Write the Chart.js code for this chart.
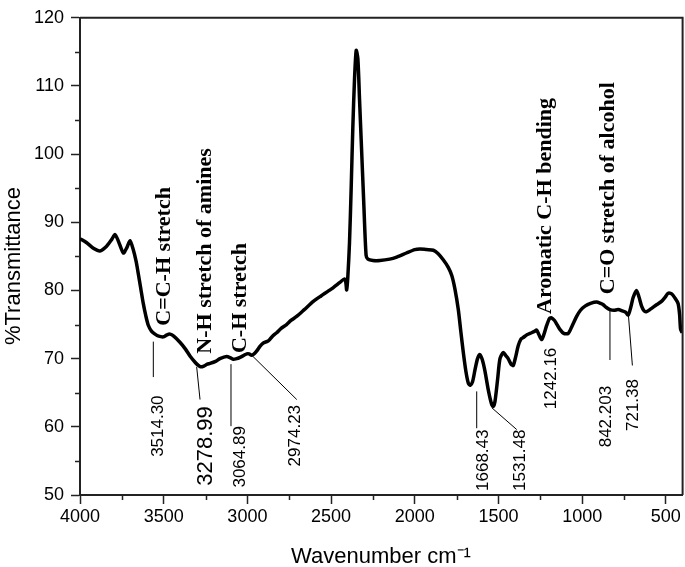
<!DOCTYPE html>
<html>
<head>
<meta charset="utf-8">
<script src="https://cdn.jsdelivr.net/npm/chart.js@4.4.1/dist/chart.umd.min.js"></script>
<style>
  html, body { margin: 0; padding: 0; background: #fff; }
  #wrap { width: 685px; height: 567px; }
</style>
</head>
<body>
<div id="wrap"><canvas id="c" width="685" height="567"></canvas></div>
<script>
// ---- data ----
const wavenumbers = [
  4000, 3960, 3920, 3881, 3841, 3810, 3791, 3770, 3741, 3720, 3701, 3682, 3665, 3652, 3637, 3622, 3607, 3592, 3572, 3552,
  3530, 3502, 3480, 3462, 3440, 3403, 3370, 3343, 3310, 3293, 3280, 3260, 3240, 3223, 3190, 3164, 3124, 3100, 3084, 3064,
  3044, 3020, 3004, 2990, 2975, 2960, 2945, 2925, 2905, 2875, 2850, 2825, 2800, 2766, 2740, 2706, 2660, 2606, 2560, 2500,
  2447, 2420, 2412, 2407, 2400, 2390, 2380, 2370, 2360, 2350, 2340, 2330, 2320, 2305, 2291, 2280, 2250, 2208, 2150, 2108,
  2050, 2000, 1969, 1930, 1889, 1860, 1830, 1800, 1779, 1760, 1740, 1725, 1710, 1695, 1680, 1668, 1655, 1640, 1625, 1611,
  1596, 1581, 1560, 1541, 1531, 1521, 1505, 1491, 1471, 1455, 1442, 1425, 1412, 1397, 1382, 1365, 1352, 1330, 1302, 1285,
  1272, 1258, 1242, 1228, 1213, 1195, 1183, 1165, 1150, 1133, 1110, 1083, 1060, 1033, 1010, 983, 950, 914, 890, 874,
  855, 834, 810, 785, 760, 740, 725, 710, 695, 675, 660, 645, 630, 615, 590, 556, 526, 505, 486, 465,
  446, 427, 418, 412, 402
];
const transmittance = [
  87.6, 87.0, 86.2, 85.8, 86.5, 87.5, 88.2, 87.2, 85.5, 86.3, 87.3, 86.0, 84.3, 82.5, 80.3, 78.1, 76.3, 74.9, 74.0, 73.6,
  73.3, 73.2, 73.5, 73.6, 73.3, 72.4, 71.4, 70.4, 69.4, 69.0, 68.8, 68.9, 69.2, 69.3, 69.6, 70.0, 70.3, 70.1, 69.9, 70.0,
  70.2, 70.5, 70.7, 70.7, 70.5, 70.7, 71.1, 71.8, 72.3, 72.6, 73.3, 73.8, 74.4, 75.0, 75.6, 76.2, 77.2, 78.4, 79.2, 80.2,
  81.2, 81.7, 81.2, 80.1, 82.0, 87.0, 95.0, 104.0, 111.0, 115.2, 114.0, 108.0, 102.0, 93.0, 85.2, 84.6, 84.4, 84.4, 84.6, 84.9,
  85.5, 86.0, 86.1, 86.0, 85.9, 85.4, 84.5, 83.4, 82.2, 80.2, 77.2, 74.0, 70.9, 68.2, 66.4, 66.1, 66.6, 68.4, 70.0, 70.6,
  69.8, 68.2, 65.3, 63.3, 63.0, 63.7, 67.0, 70.0, 70.9, 70.4, 70.0, 69.2, 69.0, 70.3, 71.9, 72.9, 73.1, 73.5, 73.8, 74.0,
  74.2, 73.5, 72.8, 73.6, 74.8, 75.9, 76.0, 75.6, 75.0, 74.3, 73.7, 73.7, 74.8, 76.2, 77.1, 77.7, 78.1, 78.3, 78.1, 77.9,
  77.5, 77.2, 77.1, 77.2, 77.0, 76.8, 76.4, 77.5, 79.0, 80.0, 79.0, 77.7, 77.0, 76.9, 77.3, 77.9, 78.4, 79.0, 79.6, 79.5,
  78.9, 78.1, 76.5, 74.3, 73.8
];
const xTicks = [4000, 3500, 3000, 2500, 2000, 1500, 1000, 500];
const xMinorTicks = [3750, 3250, 2750, 2250, 1750, 1250, 750];
const yTicks = [50, 60, 70, 80, 90, 100, 110, 120];
const yMinorTicks = [55, 65, 75, 85, 95, 105, 115];

const peakLabels = ['3514.30', '3278.99', '3064.89', '2974.23', '1668.43', '1531.48', '1242.16', '842.203', '721.38'];
const bandLabels = ['C=C-H stretch', 'N-H stretch of amines', 'C-H stretch', 'Aromatic C-H bending', 'C=O stretch of alcohol'];
const yTitle = '%Transmittance';
const xTitle = 'Wavenumber cm\u207B\u00B9';

// ---- annotation placement (in axis units: wavenumber, %T) ----
// [baseline wavenumber, centre %T, font size]
const peakLabelPos = [
  [3504, 60.1, 17], [3214, 57.2, 22], [3014, 55.6, 17], [2686, 58.7, 17],
  [1563, 55.1, 17], [1342, 55.1, 17], [1156, 67.1, 17], [828, 61.5, 17], [666, 63.2, 17]
];
// leader lines [x1, y1, x2, y2] in axis units (null = none)
const leaderLines = [
  [3562, 72.5, 3562, 67.3], [3303, 68.8, 3283, 64.0], [3098, 69.2, 3098, 60.1], [2974, 70.5, 2705, 64.0],
  [1630, 65.2, 1630, 59.8], [1540, 62.8, 1391, 59.6], null, [834, 77.0, 834, 69.8], [724, 76.5, 700, 69.0]
];
const bandLabelPos = [[3462, 85.0], [3217, 85.8], [3008, 78.9], [1186, 92.4], [810, 95.0]];

const SANS = '"Liberation Sans", Arial, sans-serif';
const SERIF = '"Liberation Serif", "Times New Roman", serif';
const AXIS = '#222';

const annotPlugin = {
  id: 'annot',
  afterDraw(chart) {
    const { ctx, chartArea: ca } = chart;
    const xs = chart.scales.x, ys = chart.scales.y;
    ctx.save();
    // frame top & right
    ctx.strokeStyle = AXIS;
    ctx.lineWidth = 2;
    ctx.beginPath();
    ctx.moveTo(ca.left, ca.top);
    ctx.lineTo(ca.right, ca.top);
    ctx.lineTo(ca.right, ca.bottom);
    ctx.stroke();
    // minor ticks
    ctx.lineWidth = 1.5;
    ctx.beginPath();
    xMinorTicks.forEach(v => {
      const px = Math.round(xs.getPixelForValue(v)) + 0.5;
      ctx.moveTo(px, ca.bottom);
      ctx.lineTo(px, ca.bottom + 5);
    });
    yMinorTicks.forEach(v => {
      const py = Math.round(ys.getPixelForValue(v)) + 0.5;
      ctx.moveTo(ca.left, py);
      ctx.lineTo(ca.left - 5, py);
    });
    ctx.stroke();
    // leader lines
    ctx.strokeStyle = '#000';
    ctx.lineWidth = 1;
    ctx.beginPath();
    leaderLines.forEach(l => {
      if (!l) return;
      ctx.moveTo(xs.getPixelForValue(l[0]), ys.getPixelForValue(l[1]));
      ctx.lineTo(xs.getPixelForValue(l[2]), ys.getPixelForValue(l[3]));
    });
    ctx.stroke();
    // rotated text
    ctx.fillStyle = '#000';
    ctx.textAlign = 'center';
    ctx.textBaseline = 'alphabetic';
    peakLabels.forEach((t, i) => {
      const p = peakLabelPos[i];
      ctx.save();
      ctx.translate(xs.getPixelForValue(p[0]), ys.getPixelForValue(p[1]));
      ctx.rotate(-Math.PI / 2);
      ctx.font = p[2] + 'px ' + SANS;
      ctx.fillText(t, 0, 0);
      ctx.restore();
    });
    bandLabels.forEach((t, i) => {
      const p = bandLabelPos[i];
      ctx.save();
      ctx.translate(xs.getPixelForValue(p[0]), ys.getPixelForValue(p[1]));
      ctx.rotate(-Math.PI / 2);
      ctx.font = 'bold 22px ' + SERIF;
      ctx.fillText(t, 0, 0);
      ctx.restore();
    });
    // y axis title
    ctx.save();
    ctx.translate(20, 266);
    ctx.rotate(-Math.PI / 2);
    ctx.font = '22px ' + SANS;
    ctx.fillText(yTitle, 0, 0);
    ctx.restore();
    // x axis title
    ctx.font = '22px ' + SANS;
    ctx.fillText(xTitle, 381, 563);
    ctx.restore();
  }
};

new Chart(document.getElementById('c'), {
  type: 'line',
  data: {
    datasets: [{
      data: wavenumbers.map((w, i) => ({ x: w, y: transmittance[i] })),
      borderColor: '#000',
      borderWidth: 3.5,
      pointRadius: 0,
      tension: 0.25,
      fill: false
    }]
  },
  options: {
    responsive: false,
    animation: false,
    events: [],
    layout: { padding: { top: 10, right: 2.4, left: 0, bottom: 0 } },
    plugins: { legend: { display: false }, tooltip: { enabled: false }, title: { display: false } },
    scales: {
      x: {
        type: 'linear',
        reverse: true,
        min: 400,
        max: 4000,
        afterBuildTicks: s => { s.ticks = xTicks.map(v => ({ value: v })); },
        afterFit: s => { s.height = 72; },
        grid: { drawOnChartArea: false, drawTicks: true, tickLength: 9, tickWidth: 1.5, tickColor: AXIS },
        border: { display: true, color: AXIS, width: 2 },
        ticks: { autoSkip: false, maxRotation: 0, color: '#000', padding: 2, font: { family: SANS, size: 18 },
                 callback: v => String(v) },
        title: { display: false }
      },
      y: {
        type: 'linear',
        min: 50,
        max: 120,
        afterBuildTicks: s => { s.ticks = yTicks.map(v => ({ value: v })); },
        afterFit: s => { s.width = 80; },
        grid: { drawOnChartArea: false, drawTicks: true, tickLength: 9, tickWidth: 1.5, tickColor: AXIS },
        border: { display: true, color: AXIS, width: 2 },
        ticks: { autoSkip: false, color: '#000', padding: 7, font: { family: SANS, size: 18 },
                 callback: v => String(v) },
        title: { display: false }
      }
    }
  },
  plugins: [annotPlugin]
});
</script>
</body>
</html>
